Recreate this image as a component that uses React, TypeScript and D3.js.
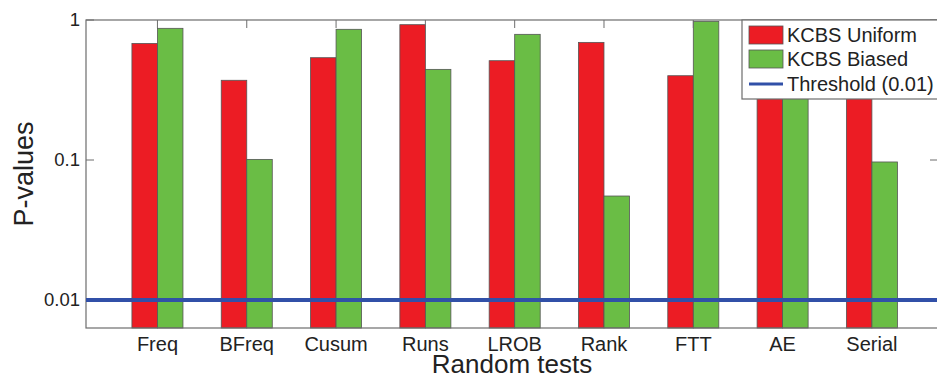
import React, { useRef, useEffect } from 'react';
import * as d3 from 'd3';

const tests = ['Freq', 'BFreq', 'Cusum', 'Runs', 'LROB', 'Rank', 'FTT', 'AE', 'Serial'];
// p-values (AE and Serial uniform are hidden by the legend)
const uniform = [0.68, 0.371, 0.538, 0.926, 0.512, 0.692, 0.40, 0.50, 0.60];
const biased = [0.872, 0.101, 0.858, 0.444, 0.79, 0.0553, 0.978, 0.55, 0.0968];
const yTicks = [1, 0.1, 0.01];
const threshold = 0.01;
const seriesNames = ['KCBS Uniform', 'KCBS Biased'];

const App = () => {
  const svgRef = useRef<SVGSVGElement>(null);

  useEffect(() => {
    const width = 937;
    const height = 378;
    const left = 86, right = 938, top = 20, bottom = 328;
    const font = '"Liberation Sans", Arial, sans-serif';
    const red = '#ec1c24';
    const green = '#6abd45';
    const blue = '#3150a8';
    const axisColor = '#6d6d6d';
    const textColor = '#222';

    const svg = d3.select(svgRef.current)
      .attr('width', width)
      .attr('height', height)
      .style('position', 'absolute')
      .style('left', '0px')
      .style('top', '0px')
      .style('background', '#fff');
    svg.selectAll('*').remove();

    const x = d3.scaleLinear().domain([0.2, 9.74]).range([left, right]);
    const y = d3.scaleLog().domain([Math.pow(10, -2.2), 1]).range([bottom, top]);
    const barW = 0.2857;

    // bars
    const groups = svg.append('g');
    tests.forEach((t, i) => {
      const c = i + 1;
      [uniform[i], biased[i]].forEach((v, s) => {
        const x0 = s === 0 ? c - barW : c;
        groups.append('rect')
          .attr('x', x(x0))
          .attr('y', y(v))
          .attr('width', x(x0 + barW) - x(x0))
          .attr('height', bottom - y(v))
          .attr('fill', s === 0 ? red : green)
          .attr('stroke', '#555')
          .attr('stroke-width', 0.8);
      });
    });

    // axes box
    svg.append('rect')
      .attr('x', left).attr('y', top)
      .attr('width', right - left).attr('height', bottom - top)
      .attr('fill', 'none')
      .attr('stroke', axisColor)
      .attr('stroke-width', 1.2);

    // x ticks on top
    tests.forEach((t, i) => {
      svg.append('line')
        .attr('x1', x(i + 1)).attr('x2', x(i + 1))
        .attr('y1', top).attr('y2', top + 8)
        .attr('stroke', axisColor);
      svg.append('text')
        .attr('x', x(i + 1))
        .attr('y', 351)
        .attr('text-anchor', 'middle')
        .style('font-family', font)
        .style('font-size', '20px')
        .style('fill', textColor)
        .text(t);
    });

    // y ticks
    yTicks.forEach(v => {
      svg.append('line')
        .attr('x1', left).attr('x2', left + 8)
        .attr('y1', y(v)).attr('y2', y(v))
        .attr('stroke', axisColor);
      svg.append('line')
        .attr('x1', right - 8).attr('x2', right)
        .attr('y1', y(v)).attr('y2', y(v))
        .attr('stroke', axisColor);
      svg.append('text')
        .attr('x', 80)
        .attr('y', y(v))
        .attr('dy', '0.35em')
        .attr('text-anchor', 'end')
        .style('font-family', font)
        .style('font-size', '18.5px')
        .style('fill', textColor)
        .text(String(v));
    });

    // threshold line
    svg.append('line')
      .attr('x1', left).attr('x2', right)
      .attr('y1', y(threshold)).attr('y2', y(threshold))
      .attr('stroke', blue)
      .attr('stroke-width', 4);

    // axis labels
    svg.append('text')
      .attr('x', x((0.2 + 9.74) / 2))
      .attr('y', 373)
      .attr('text-anchor', 'middle')
      .style('font-family', font)
      .style('font-size', '26px')
      .style('fill', textColor)
      .text('Random tests');

    svg.append('text')
      .attr('transform', `translate(33, ${(top + bottom) / 2}) rotate(-90)`)
      .attr('text-anchor', 'middle')
      .style('font-family', font)
      .style('font-size', '27px')
      .style('fill', textColor)
      .text('P-values');

    // legend
    const lg = svg.append('g').attr('transform', 'translate(742, 20)');
    lg.append('rect')
      .attr('x', 0).attr('y', 0)
      .attr('width', 200).attr('height', 79)
      .attr('fill', '#fff')
      .attr('stroke', axisColor)
      .attr('stroke-width', 1.2);
    [red, green].forEach((col, i) => {
      lg.append('rect')
        .attr('x', 7).attr('y', 6 + i * 24)
        .attr('width', 34).attr('height', 18)
        .attr('fill', col)
        .attr('stroke', '#555')
        .attr('stroke-width', 0.8);
      lg.append('text')
        .attr('x', 45).attr('y', 15 + i * 24)
        .attr('dy', '0.35em')
        .style('font-family', font)
        .style('font-size', '20px')
        .style('fill', textColor)
        .text(seriesNames[i]);
    });
    lg.append('line')
      .attr('x1', 7).attr('x2', 41)
      .attr('y1', 64).attr('y2', 64)
      .attr('stroke', blue)
      .attr('stroke-width', 3);
    lg.append('text')
      .attr('x', 45).attr('y', 64)
      .attr('dy', '0.35em')
      .style('font-family', font)
      .style('font-size', '20px')
      .style('fill', textColor)
      .text(`Threshold (${threshold})`);
  }, []);

  return <svg ref={svgRef}></svg>;
};

export default App;
